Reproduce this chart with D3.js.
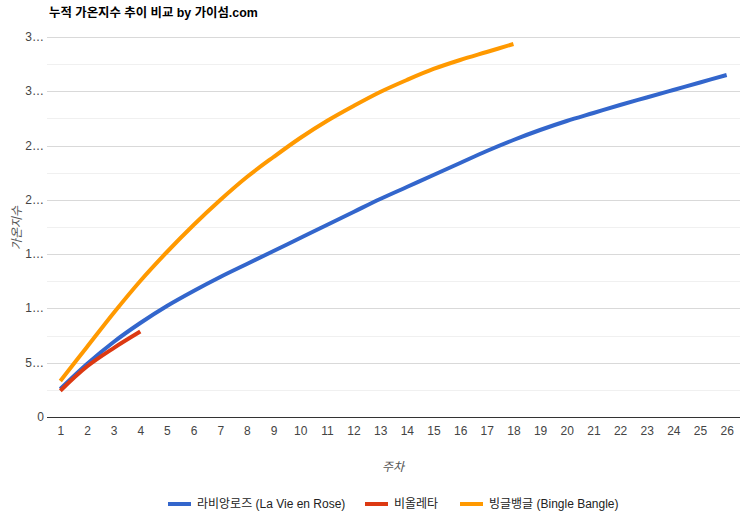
<!DOCTYPE html>
<html>
<head>
<meta charset="utf-8">
<script src="https://cdn.jsdelivr.net/npm/d3@7"></script>
<style>
  body { margin: 0; background: #fff; }
  text { font-family: "Liberation Sans", Arial, "Noto Sans CJK KR", sans-serif; }
</style>
</head>
<body>
<script>
// data
var weeks = d3.range(1, 27);
var laVieEnRose = [2579, 4882, 6908, 8658, 10224, 11605, 12895, 14092, 15289, 16487, 17684, 18882, 20079, 21184, 22289, 23395, 24500, 25513, 26434, 27263, 28000, 28737, 29428, 30118, 30809, 31500];
var violeta = [2420, 4650, 6350, 7870];
var bingleBangle = [3316, 6447, 9579, 12526, 15197, 17684, 19987, 22105, 23947, 25697, 27263, 28645, 29934, 31039, 32053, 32882, 33618, 34355];
var yTicks = [0, 5000, 10000, 15000, 20000, 25000, 30000, 35000];
var yTickLabels = ["0", "5…", "1…", "1…", "2…", "2…", "3…", "3…"];
var seriesNames = ["라비앙로즈 (La Vie en Rose)", "비올레타", "빙글뱅글 (Bingle Bangle)"];
var colors = ["#3366cc", "#dc3912", "#ff9900"];

var w = 743, h = 531;
var plotL = 47, plotR = 740, plotT = 37, plotB = 417;

var svg = d3.select("body").append("svg")
    .attr("width", w)
    .attr("height", h);

var x = d3.scalePoint()
    .domain(weeks)
    .range([plotL, plotR])
    .padding(0.5);

var y = d3.scaleLinear()
    .domain([0, 35000])
    .range([plotB, plotT]);

// minor gridlines
svg.append("g").selectAll("line")
    .data(d3.range(2500, 35000, 5000))
    .enter().append("line")
    .attr("x1", plotL).attr("x2", plotR)
    .attr("y1", function(d) { return Math.round(y(d)) + 0.5; })
    .attr("y2", function(d) { return Math.round(y(d)) + 0.5; })
    .attr("stroke", "#f0f0f0");

// major gridlines
svg.append("g").selectAll("line")
    .data(yTicks.slice(1))
    .enter().append("line")
    .attr("x1", plotL).attr("x2", plotR)
    .attr("y1", function(d) { return Math.round(y(d)) + 0.5; })
    .attr("y2", function(d) { return Math.round(y(d)) + 0.5; })
    .attr("stroke", "#d9d9d9");

// y labels
svg.append("g").selectAll("text")
    .data(yTicks)
    .enter().append("text")
    .attr("x", plotL - 3)
    .attr("y", function(d) { return y(d) + 4; })
    .attr("text-anchor", "end")
    .attr("font-size", 12)
    .attr("fill", "#444")
    .text(function(d, i) { return yTickLabels[i]; });

// x axis
var xAxis = d3.axisBottom(x).tickSize(0).tickPadding(9);
var gx = svg.append("g")
    .attr("transform", "translate(0," + (plotB + 0.5) + ")")
    .call(xAxis);
gx.select(".domain").attr("stroke", "#333").attr("d", "M" + plotL + ",0H" + plotR);
gx.selectAll("text")
    .attr("font-size", 12)
    .attr("fill", "#444")
    .style("font-family", "\"Liberation Sans\", Arial, sans-serif");

// lines (smoothed like the original)
var line = d3.line()
    .x(function(d, i) { return x(weeks[i]); })
    .y(function(d) { return y(d); })
    .curve(d3.curveCatmullRom.alpha(0.5));

[laVieEnRose, violeta, bingleBangle].forEach(function(s, k) {
    svg.append("path")
        .datum(s)
        .attr("fill", "none")
        .attr("stroke", colors[k])
        .attr("stroke-width", 4)
        .attr("d", line);
});

// title
svg.append("text")
    .attr("x", 49)
    .attr("y", 17)
    .attr("font-size", 12.4)
    .attr("font-weight", "bold")
    .attr("fill", "#000")
    .text("누적 가온지수 추이 비교 by 가이섬.com");

// axis titles
svg.append("text")
    .attr("transform", "translate(21,228) rotate(-90)")
    .attr("text-anchor", "middle")
    .attr("font-size", 12)
    .attr("font-style", "italic")
    .attr("fill", "#555")
    .text("가온지수");

svg.append("text")
    .attr("x", 393)
    .attr("y", 471)
    .attr("text-anchor", "middle")
    .attr("font-size", 12)
    .attr("font-style", "italic")
    .attr("fill", "#555")
    .text("주차");

// legend
var legendX = [168, 365, 460];
var lg = svg.append("g").selectAll("g")
    .data(seriesNames)
    .enter().append("g")
    .attr("transform", function(d, i) { return "translate(" + legendX[i] + ",504)"; });
lg.append("line")
    .attr("x1", 0).attr("x2", 23)
    .attr("y1", 0).attr("y2", 0)
    .attr("stroke", function(d, i) { return colors[i]; })
    .attr("stroke-width", 4);
lg.append("text")
    .attr("x", 29)
    .attr("y", 4)
    .attr("font-size", 12)
    .attr("fill", "#222")
    .text(function(d) { return d; });
</script>
</body>
</html>
